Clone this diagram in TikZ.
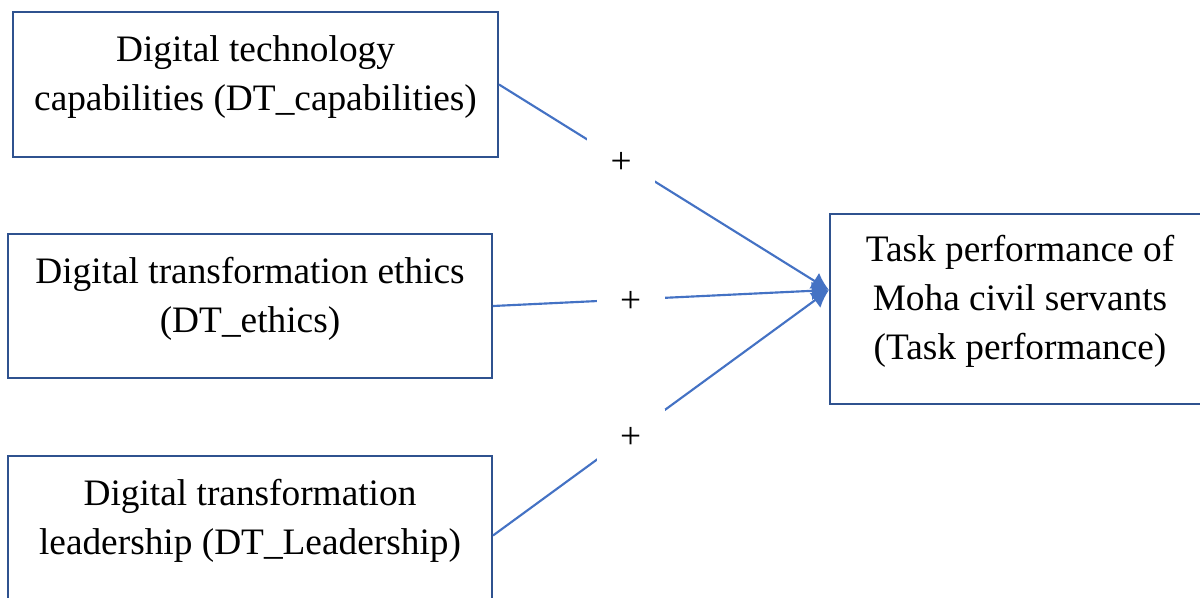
\documentclass[tikz,border=0pt]{standalone}
\usepackage{fontspec}
\setmainfont{Liberation Serif}
\usetikzlibrary{arrows.meta,calc}
\definecolor{boxblue}{HTML}{2F528F}
\definecolor{linkblue}{HTML}{4472C4}
\begin{document}
\begin{tikzpicture}[x=0.75pt,y=-0.75pt,
  box/.style={draw=boxblue,line width=1.5pt,minimum width=363pt,minimum height=108.5pt,inner sep=0pt},
  txt/.style={align=center,font=\fontsize{28pt}{36.75pt}\selectfont},
  link/.style={draw=linkblue,line width=1.6pt,-{Latex[length=13pt,width=14pt]}},
  plus/.style={fill=white,minimum width=51pt,minimum height=39pt,inner sep=0pt,text height=20pt,text depth=0pt,font=\fontsize{28pt}{28pt}\selectfont}]
\useasboundingbox (0,0) rectangle (1200,597);
\clip (0,0) rectangle (1200,597);
\node[box,minimum width=363.75pt] (dtc) at (255.5,84.5) {};
\node[txt] (dtctxt) at ($(dtc)+(0,-7)$) {Digital technology\\capabilities (DT\_capabilities)};
\node[box] (dte) at (250,306) {};
\node[txt] (dtetxt) at ($(dte)+(0,-7)$) {Digital transformation ethics\\(DT\_ethics)};
\node[box] (dtl) at (250,528.5) {};
\node[txt] (dtltxt) at ($(dtl)+(0,-8)$) {Digital transformation\\leadership (DT\_Leadership)};
\node[box,minimum width=285pt,minimum height=142.5pt] (tp) at (1020,309) {};
\node[txt] (tptxt) at ($(tp)+(0,-8)$) {Task performance of\\Moha civil servants\\(Task performance)};
\coordinate (tpin) at ($(tp.west)+(0,-19)$);
\draw[link] (dtc.east) -- node[plus,pos=0.37] (p1) {+} (tpin);
\draw[link] (dte.east) -- node[plus,pos=0.41] (p2) {+} (tpin);
\draw[link] ($(dtl.east)+(0,7)$) -- node[plus,pos=0.41] (p3) {+} (tpin);
\end{tikzpicture}
\end{document}
